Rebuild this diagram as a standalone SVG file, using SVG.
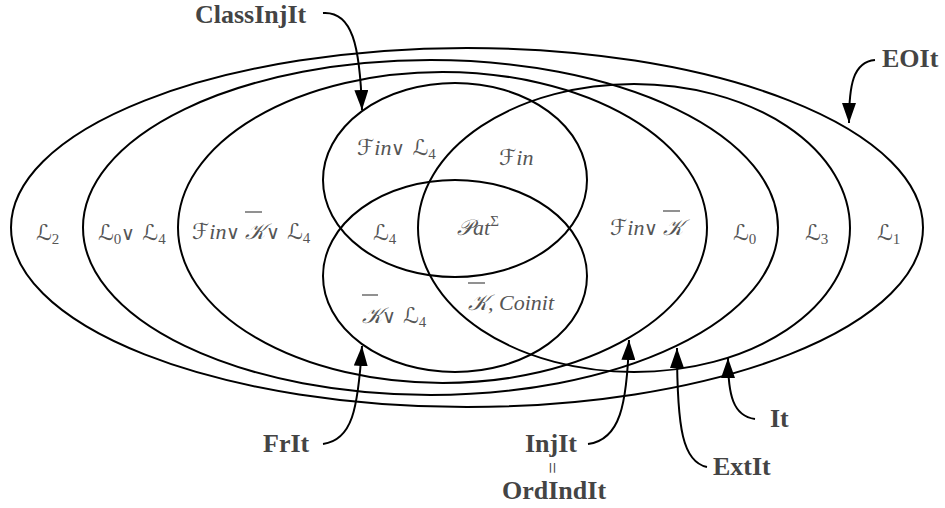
<svg xmlns="http://www.w3.org/2000/svg" width="945" height="508" viewBox="0 0 945 508">
<defs>
<style>
.e{fill:none;stroke:#000;stroke-width:2}
.c{fill:none;stroke:#000;stroke-width:2}
.m{font-family:"DejaVu Serif","DejaVu Sans",serif;font-style:italic;font-size:22px;fill:#555}
.t{font-family:"Liberation Serif",serif;font-style:italic}
.o{font-family:"DejaVu Sans",sans-serif;font-style:normal;font-weight:200;font-size:19px}
.s{font-family:"Liberation Serif",serif;font-size:15px;font-style:normal}
.b{font-family:"Liberation Serif","Times New Roman",serif;font-weight:bold;font-size:26px;fill:#444}
.ov{stroke:#555;stroke-width:1.3}
</style>
<marker id="ah" viewBox="0 0 20 14" refX="20" refY="7" markerWidth="20" markerHeight="14" markerUnits="userSpaceOnUse" orient="auto">
<path d="M0,0 L20,7 L0,14 z" fill="#000"/>
</marker>
</defs>
<rect width="945" height="508" fill="#fff"/>
<g id="EOIt"><ellipse class="e" cx="467" cy="227.5" rx="456" ry="179.5"/></g>
<g id="ExtIt"><ellipse class="e" cx="430.5" cy="227.5" rx="347.5" ry="167.5"/></g>
<g id="InjIt"><ellipse class="e" cx="442.5" cy="227.5" rx="264.5" ry="155.5"/></g>
<g id="It"><ellipse class="e" cx="634" cy="228" rx="216" ry="144"/></g>
<g id="ClassInjIt"><ellipse class="e" cx="455" cy="180" rx="132" ry="97"/></g>
<g id="FrIt"><ellipse class="e" cx="455" cy="276" rx="132" ry="96"/></g>
<g id="regions">
<text class="m" x="36" y="240">ℒ<tspan class="s" dy="4">2</tspan></text>
<text class="m" x="98" y="240">ℒ<tspan class="s" dy="4">0</tspan><tspan class="o" dy="-4">∨</tspan><tspan> ℒ</tspan><tspan class="s" dy="4">4</tspan></text>
<text class="m" x="192" y="239">ℱ<tspan class="t">in</tspan><tspan class="o">∨</tspan></text>
<text class="m" x="245" y="239">𝒦</text>
<line class="ov" x1="245" y1="212" x2="262" y2="212"/>
<text class="m" x="266" y="239"><tspan class="o">∨</tspan> ℒ<tspan class="s" dy="4">4</tspan></text>
<text class="m" x="373" y="240">ℒ<tspan class="s" dy="4">4</tspan></text>
<text class="m" x="357" y="155">ℱ<tspan class="t">in</tspan><tspan class="o">∨</tspan> ℒ<tspan class="s" dy="4">4</tspan></text>
<text class="m" x="499" y="165">ℱ<tspan class="t">in</tspan></text>
<text class="m" x="457" y="235">𝒫<tspan class="t">at</tspan><tspan class="s" dy="-9">Σ</tspan></text>
<text class="m" x="610" y="235">ℱ<tspan class="t">in</tspan><tspan class="o">∨</tspan></text>
<text class="m" x="663" y="235">𝒦</text>
<line class="ov" x1="663" y1="211" x2="680" y2="211"/>
<text class="m" x="733" y="240">ℒ<tspan class="s" dy="4">0</tspan></text>
<text class="m" x="805" y="240">ℒ<tspan class="s" dy="4">3</tspan></text>
<text class="m" x="877" y="240">ℒ<tspan class="s" dy="4">1</tspan></text>
<text class="m" x="362" y="323">𝒦<tspan class="o">∨</tspan> ℒ<tspan class="s" dy="4">4</tspan></text>
<line class="ov" x1="362" y1="295" x2="378" y2="295"/>
<text class="m" x="468" y="310">𝒦<tspan class="t">, Coinit</tspan></text>
<line class="ov" x1="468" y1="283" x2="485" y2="283"/>
</g>
<g id="labels">
<text class="b" x="195" y="23">ClassInjIt</text>
<text class="b" x="882" y="67">EOIt</text>
<text class="b" x="263" y="452">FrIt</text>
<text class="b" x="525" y="452">InjIt</text>
<text x="552" y="468" transform="rotate(90 552 468)" text-anchor="middle" dominant-baseline="central" style="font-family:'Liberation Serif',serif;font-size:21px;fill:#444">=</text>
<text class="b" x="502" y="499">OrdIndIt</text>
<text class="b" x="770" y="427">It</text>
<text class="b" x="713" y="475">ExtIt</text>
</g>
<g id="connectors">
<path class="c" marker-end="url(#ah)" d="M323,13 C352,11 360,45 362,110"/>
<path class="c" marker-end="url(#ah)" d="M875,60 C853,62 849,85 849,123"/>
<path class="c" marker-end="url(#ah)" d="M323,444 C352,440 358,410 362,346"/>
<path class="c" marker-end="url(#ah)" d="M588,444 C620,440 627,405 629,340"/>
<path class="c" marker-end="url(#ah)" d="M707,467 C683,462 677,430 677,348"/>
<path class="c" marker-end="url(#ah)" d="M755,419 C733,416 728,395 728,358"/>
</g>
</svg>
